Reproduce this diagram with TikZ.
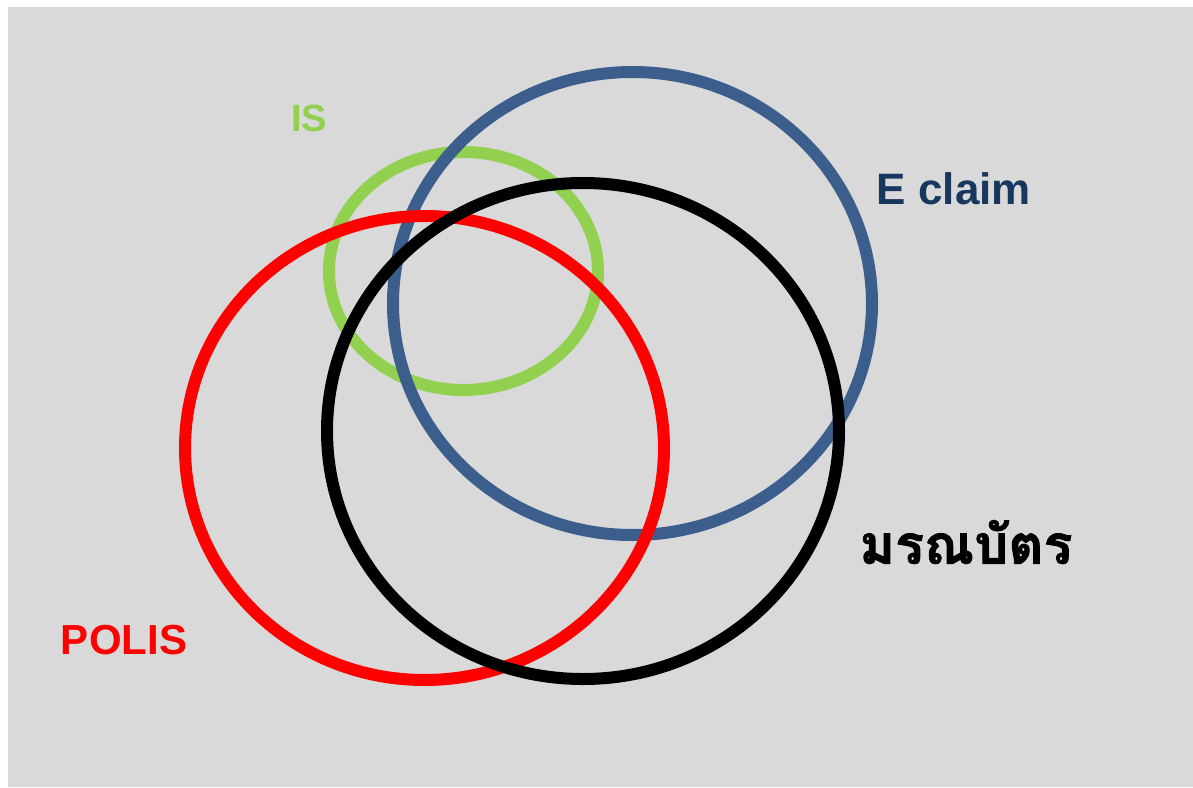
\documentclass[tikz,border=0pt]{standalone}
\usepackage{fontspec}
\setmainfont{Liberation Sans}
\newfontfamily\thaifont[Script=Thai,FakeBold=1.5]{Loma}
\definecolor{bggray}{HTML}{D9D9D9}
\definecolor{isgreen}{HTML}{92D050}
\definecolor{eblue}{HTML}{3B5E8C}
\definecolor{enavy}{HTML}{17375E}
\tikzset{ring/.style={line width=12pt}}

\begin{document}
\begin{tikzpicture}[x=1pt,y=-1pt]
\useasboundingbox (0,0) rectangle (1193,787);
\fill[bggray] (8,7) rectangle (1193,787);
\draw[ring,isgreen] (463.5,271) ellipse (134.5 and 119);
\draw[ring,eblue] (632.5,303.5) ellipse (239.5 and 231.5);
\draw[ring,red] (424.5,448) ellipse (239.5 and 232);
\draw[ring,black] (583,431) ellipse (256 and 248);
\node[isgreen,font=\fontsize{38}{40}\selectfont\bfseries] (is) at (309,118) {IS};
\node[enavy,font=\fontsize{44}{46}\selectfont\bfseries] (eclaim) at (954,189) {E claim};
\node[red,font=\fontsize{42}{44}\selectfont\bfseries] (polis) at (124,640) {POLIS};
\node[black,font=\thaifont\fontsize{54}{56}\selectfont\bfseries] (death) at (966,542) {มรณบัตร};
\end{tikzpicture}
\end{document}
